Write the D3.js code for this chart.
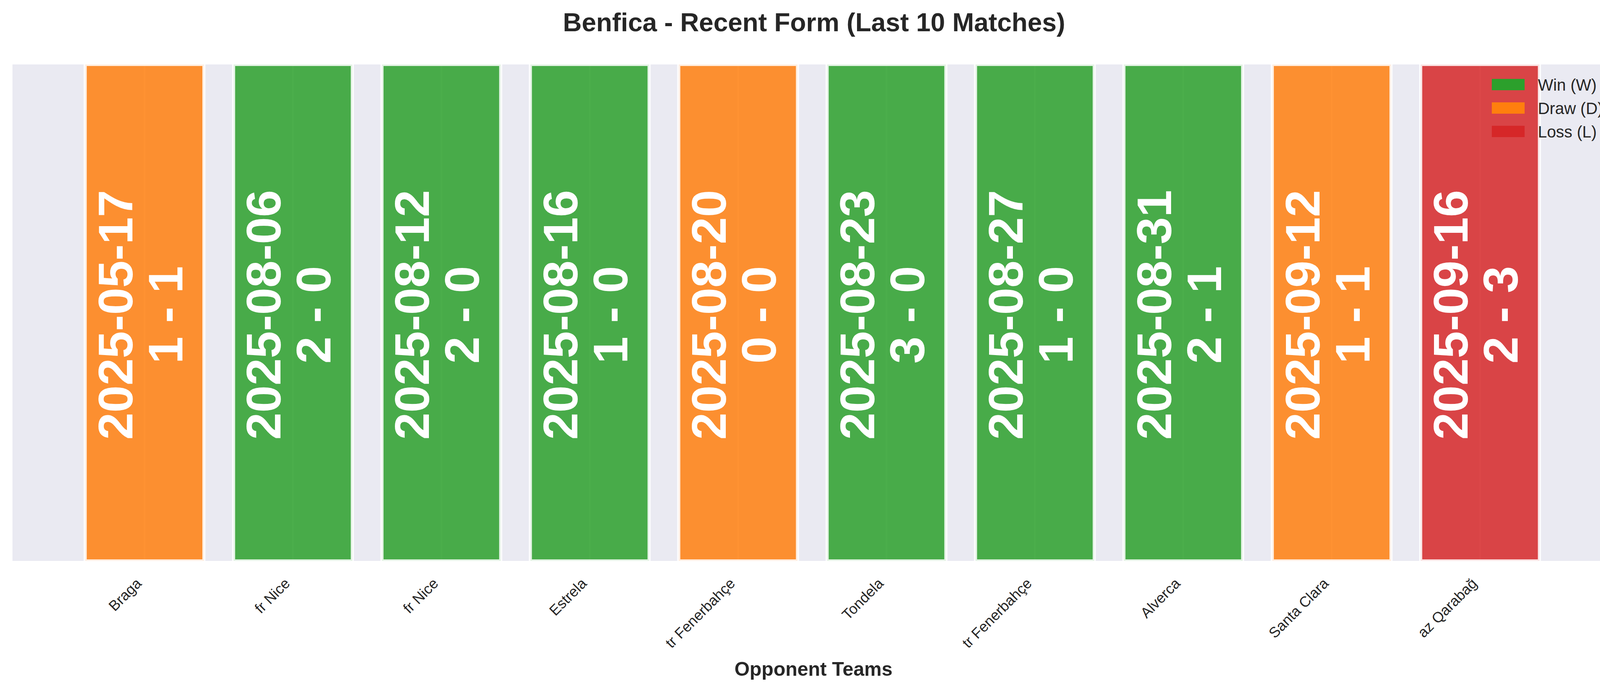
<!DOCTYPE html>
<html>
<head>
<meta charset="utf-8">
<script src="https://cdn.jsdelivr.net/npm/d3@7"></script>
<style>
  html, body { margin: 0; padding: 0; background: #ffffff; }
  svg { display: block; font-family: "Liberation Sans", Arial, sans-serif; }
</style>
</head>
<body>
<svg id="chart" width="4170" height="1769"></svg>
<script>
// ---- data ----
const opponents = ["Braga", "fr Nice", "fr Nice", "Estrela", "tr Fenerbahçe", "Tondela", "tr Fenerbahçe", "Alverca", "Santa Clara", "az Qarabağ"];
const dates = ["2025-05-17", "2025-08-06", "2025-08-12", "2025-08-16", "2025-08-20", "2025-08-23", "2025-08-27", "2025-08-31", "2025-09-12", "2025-09-16"];
const scores = ["1 - 1", "2 - 0", "2 - 0", "1 - 0", "0 - 0", "3 - 0", "1 - 0", "2 - 1", "1 - 1", "2 - 3"];
const results = ["D", "W", "W", "W", "D", "W", "W", "W", "D", "L"];
const barValues = [1, 1, 1, 1, 1, 1, 1, 1, 1, 1];
const legendKeys = ["W", "D", "L"];
const legendLabels = ["Win (W)", "Draw (D)", "Loss (L)"];
const resultColors = { W: "#2ca02c", D: "#ff7f0e", L: "#d62728" };
const titleText = "Benfica - Recent Form (Last 10 Matches)";
const xLabelText = "Opponent Teams";

// ---- layout ----
const W = 4170, H = 1769;
const plot = { left: 32, right: 4127, top: 165, bottom: 1436 };
const textColor = "#262626";
const bg = "#EAEAF2";

const svg = d3.select("#chart");
svg.append("rect").attr("width", W).attr("height", H).attr("fill", "#ffffff");

const n = opponents.length;
const barW = 0.8;
const lo = -barW / 2, hi = n - 1 + barW / 2;
const pad = 0.05 * (hi - lo);
const x = d3.scaleLinear().domain([lo - pad, hi + pad]).range([plot.left, plot.right]);
const y = d3.scaleLinear().domain([0, 1]).range([plot.bottom, plot.top]);

// clip
svg.append("defs").append("clipPath").attr("id", "plotclip")
  .append("rect")
  .attr("x", plot.left).attr("y", plot.top)
  .attr("width", plot.right - plot.left).attr("height", plot.bottom - plot.top);

// background
svg.append("rect")
  .attr("x", plot.left).attr("y", plot.top)
  .attr("width", plot.right - plot.left).attr("height", plot.bottom - plot.top)
  .attr("fill", bg);

// vertical grid lines at ticks
const gridG = svg.append("g").attr("clip-path", "url(#plotclip)");
gridG.selectAll("line.grid").data(d3.range(n)).join("line")
  .attr("class", "grid")
  .attr("x1", d => x(d)).attr("x2", d => x(d))
  .attr("y1", plot.top).attr("y2", plot.bottom)
  .attr("stroke", "#ffffff").attr("stroke-width", 4);

// bars
const barsG = svg.append("g").attr("clip-path", "url(#plotclip)");
barsG.selectAll("rect.bar").data(d3.range(n)).join("rect")
  .attr("class", "bar")
  .attr("x", i => x(i - barW / 2))
  .attr("width", i => x(i + barW / 2) - x(i - barW / 2))
  .attr("y", i => y(barValues[i]))
  .attr("height", i => y(0) - y(barValues[i]))
  .attr("fill", i => resultColors[results[i]])
  .attr("fill-opacity", 0.85)
  .attr("stroke", "#ffffff")
  .attr("stroke-opacity", 0.85)
  .attr("stroke-width", 8);

// in-bar text (two lines, rotated)
const fs = 125;
const textG = svg.append("g");
const midY = y(0.5) + 5.5;
textG.selectAll("text.date").data(d3.range(n)).join("text")
  .attr("class", "date")
  .attr("transform", i => `translate(${x(i) - 31.5},${midY}) rotate(-90)`)
  .attr("text-anchor", "middle")
  .attr("font-size", fs)
  .attr("font-weight", "bold")
  .attr("fill", "#ffffff")
  .text(i => dates[i]);
textG.selectAll("text.score").data(d3.range(n)).join("text")
  .attr("class", "score")
  .attr("transform", i => `translate(${x(i) + 96.5},${midY}) rotate(-90)`)
  .attr("text-anchor", "middle")
  .attr("font-size", fs)
  .attr("font-weight", "bold")
  .attr("fill", "#ffffff")
  .text(i => scores[i]);

// x axis
const xAxis = d3.axisBottom(x)
  .tickValues(d3.range(n))
  .tickFormat(i => opponents[i])
  .tickSize(0);
const axG = svg.append("g")
  .attr("transform", `translate(0,${plot.bottom})`)
  .call(xAxis);
axG.select(".domain").remove();
axG.selectAll(".tick text")
  .attr("x", 0).attr("y", 0).attr("dy", null)
  .attr("text-anchor", "end")
  .attr("transform", "translate(-6,60) rotate(-45)")
  .attr("font-size", 37.5)
  .attr("font-family", "Liberation Sans, Arial, sans-serif")
  .attr("fill", textColor);

// x label
svg.append("text")
  .attr("x", (plot.left + plot.right) / 2 + 3)
  .attr("y", 1730)
  .attr("text-anchor", "middle")
  .attr("font-size", 50)
  .attr("font-weight", "bold")
  .attr("fill", textColor)
  .text(xLabelText);

// title
svg.append("text")
  .attr("x", 2084)
  .attr("y", 80)
  .attr("text-anchor", "middle")
  .attr("font-size", 66.7)
  .attr("font-weight", "bold")
  .attr("fill", textColor)
  .text(titleText);

// legend
const legG = svg.append("g");
const legRow = legG.selectAll("g.leg").data(legendKeys).join("g")
  .attr("class", "leg")
  .attr("transform", (d, i) => `translate(3819,${216.5 + i * 60})`);
legRow.append("rect")
  .attr("x", 0).attr("y", -14.5)
  .attr("width", 84).attr("height", 29)
  .attr("fill", d => resultColors[d]);
legRow.append("text")
  .attr("x", 118).attr("y", 15)
  .attr("font-size", 41.7)
  .attr("fill", textColor)
  .text((d, i) => legendLabels[i]);
</script>
</body>
</html>
